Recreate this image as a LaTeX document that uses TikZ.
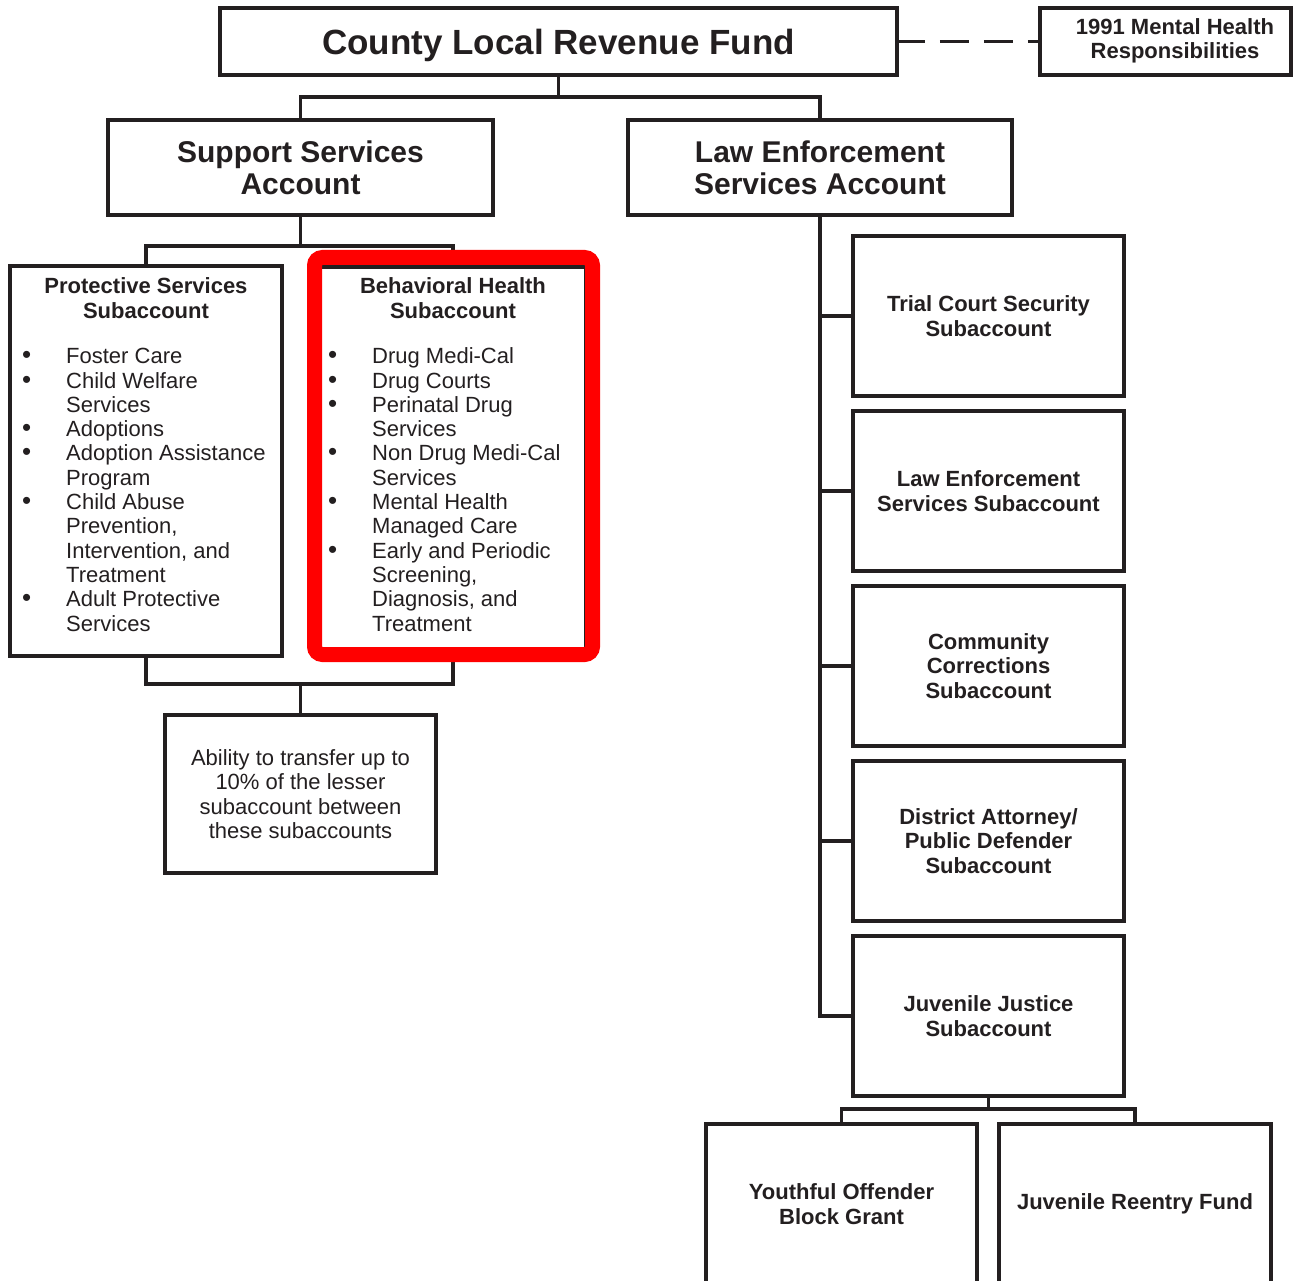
\documentclass[tikz,border=0pt]{standalone}
\usepackage{fontspec}
\setmainfont{Liberation Sans}
\definecolor{ink}{RGB}{35,31,32}
\definecolor{hlred}{RGB}{255,0,0}
\newcommand\bitem{\makebox[44pt][l]{\fontsize{26}{24.3}\selectfont\textbullet}}
\newcommand\bcont{\hspace*{44pt}}
\begin{document}
\begin{tikzpicture}[x=1pt,y=-1pt,
  box/.style={draw=ink, line width=3.8pt, rectangle, inner sep=0pt, align=center, text=ink},
  wh/.style 2 args={minimum width=#1pt, minimum height=#2pt},
  ftb/.style={font=\fontsize{22}{24.4}\selectfont\bfseries},
  ft/.style={font=\fontsize{22}{24.3}\selectfont},
  fbig/.style={font=\fontsize{30}{32}\selectfont\bfseries},
  txt/.style={inner sep=0pt, text=ink},
  link/.style={draw=ink, line width=3.8pt}]
\useasboundingbox (0,0) rectangle (1293,1281);

% top level
\node[box,wh={677}{67},text depth=0pt,font=\fontsize{35}{40}\selectfont\bfseries] (county) at (558.5,41.5) {County Local Revenue Fund};
\node[box,wh={251}{67}] (mh) at (1165.5,41.5) {};
\node[txt,ftb,align=center] (mht) at (1175,41) {1991 Mental Health\\Responsibilities};
\draw[link, dash pattern=on 29pt off 15pt, dash phase=3pt] (county.east) -- (mh.west);

% accounts
\node[box,wh={385}{95},fbig] (support) at (300.5,167.5) {Support Services\\Account};
\node[box,wh={384}{95},fbig] (law) at (820,167.5) {Law Enforcement\\Services Account};
\coordinate (j1) at (558.5,97);
\draw[link] (county.south) -- (j1);
\draw[link] (support.north) |- (j1) -| (law.north);

% support subaccounts
\node[box,wh={272}{390}] (prot) at (146,461) {};
\node[box,wh={266}{383}] (beh) at (453,458.5) {};
\node[txt,ftb,align=center] (prott) at (146,298) {Protective Services\\Subaccount};
\node[txt,ftb,align=center] (beht) at (453,298) {Behavioral Health\\Subaccount};
\node[txt,ft,align=left,anchor=base west] (protl) at (22,631) {\bitem Foster Care\\
\bitem Child Welfare\\
\bcont Services\\
\bitem Adoptions\\
\bitem Adoption Assistance\\
\bcont Program\\
\bitem Child Abuse\\
\bcont Prevention,\\
\bcont Intervention, and\\
\bcont Treatment\\
\bitem Adult Protective\\
\bcont Services};
\node[txt,ft,align=left,anchor=base west] (behl) at (328,631) {\bitem Drug Medi-Cal\\
\bitem Drug Courts\\
\bitem Perinatal Drug\\
\bcont Services\\
\bitem Non Drug Medi-Cal\\
\bcont Services\\
\bitem Mental Health\\
\bcont Managed Care\\
\bitem Early and Periodic\\
\bcont Screening,\\
\bcont Diagnosis, and\\
\bcont Treatment};
\coordinate (j2) at (300.5,246);
\draw[link] (support.south) -- (j2);
\draw[link] (prot.north) |- (j2) -| (beh.north);

\node[box,wh={271}{158},ft] (ability) at (300.5,794) {Ability to transfer up to\\10\% of the lesser\\subaccount between\\these subaccounts};
\coordinate (j3) at (300.5,684);
\draw[link] (prot.south) |- (j3) -| (beh.south);
\draw[link] (j3) -- (ability.north);

% highlight
\node[draw=hlred, line width=15pt, rounded corners=8pt, inner sep=0pt, minimum width=278pt, minimum height=397pt] (hl) at (453.5,456) {};

% law enforcement subaccounts
\node[box,wh={271}{160},ftb] (tc) at (988.5,316) {Trial Court Security\\Subaccount};
\node[box,wh={271}{160},ftb] (les) at (988.5,491) {Law Enforcement\\Services Subaccount};
\node[box,wh={271}{160},ftb] (cc) at (988.5,666) {Community\\Corrections\\Subaccount};
\node[box,wh={271}{160},ftb] (da) at (988.5,841) {District Attorney/\\Public Defender\\Subaccount};
\node[box,wh={271}{160},ftb] (jj) at (988.5,1016) {Juvenile Justice\\Subaccount};
\draw[link] (law.south) |- (jj.west);
\foreach \n in {tc,les,cc,da}{\draw[link] (law.south |- \n.west) -- (\n.west);}

% juvenile funds
\node[box,wh={271}{160},ftb] (yo) at (841.5,1204) {Youthful Offender\\Block Grant};
\node[box,wh={272}{160},ftb] (jr) at (1135,1204) {Juvenile Reentry Fund};
\coordinate (j4) at (988.5,1109);
\draw[link] (jj.south) -- (j4);
\draw[link] (yo.north) |- (j4) -| (jr.north);
\end{tikzpicture}
\end{document}
